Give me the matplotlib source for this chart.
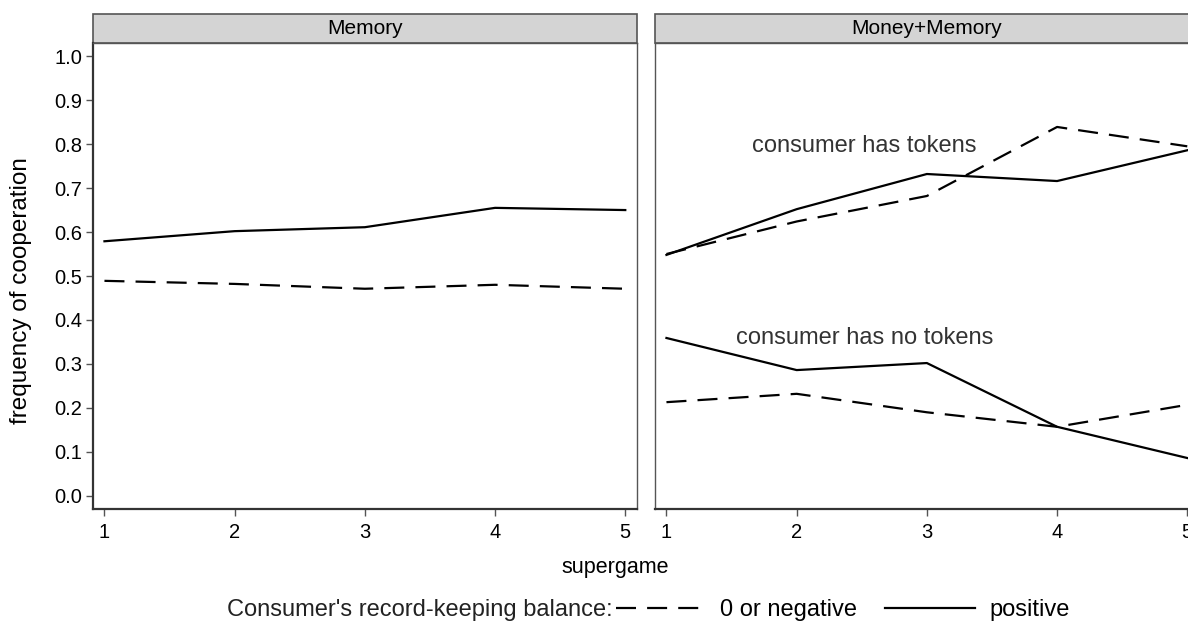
import matplotlib
matplotlib.use('Agg')
import matplotlib.pyplot as plt
from matplotlib.patches import Rectangle
from matplotlib.lines import Line2D

plt.rcParams['font.family'] = ['Liberation Sans', 'DejaVu Sans']

supergame = [1, 2, 3, 4, 5]

# Memory treatment
mem_positive = [0.579, 0.602, 0.611, 0.655, 0.650]
mem_nonpos = [0.489, 0.482, 0.471, 0.480, 0.471]

# Money+Memory treatment, consumer has tokens
mm_tok_positive = [0.548, 0.652, 0.732, 0.716, 0.786]
mm_tok_nonpos = [0.550, 0.624, 0.682, 0.839, 0.795]

# Money+Memory treatment, consumer has no tokens
mm_notok_positive = [0.359, 0.286, 0.302, 0.157, 0.086]
mm_notok_nonpos = [0.213, 0.232, 0.190, 0.157, 0.207]

yticks = [0.0, 0.1, 0.2, 0.3, 0.4, 0.5, 0.6, 0.7, 0.8, 0.9, 1.0]

W, H = 1188, 625
fig = plt.figure(figsize=(W / 100, H / 100), dpi=100)

# panel positions in pixels (left, top, right, bottom)
def px_axes(l, t, r, b):
    return fig.add_axes([l / W, 1 - b / H, (r - l) / W, (b - t) / H])

ax1 = px_axes(93, 43, 637, 509)
ax2 = px_axes(655, 43, 1199, 509)

dash = (0, (9, 5))
lw = 1.6

ax1.plot(supergame, mem_nonpos, color='black', lw=lw, linestyle=dash)
ax1.plot(supergame, mem_positive, color='black', lw=lw)

ax2.plot(supergame, mm_tok_nonpos, color='black', lw=lw, linestyle=dash)
ax2.plot(supergame, mm_tok_positive, color='black', lw=lw)
ax2.plot(supergame, mm_notok_nonpos, color='black', lw=lw, linestyle=dash)
ax2.plot(supergame, mm_notok_positive, color='black', lw=lw)

ax2.text(2.52, 0.795, 'consumer has tokens', ha='center', va='center',
         fontsize=17, color='#333333')
ax2.text(2.52, 0.36, 'consumer has no tokens', ha='center', va='center',
         fontsize=17, color='#333333')

strip_h = 29 / 466
for ax, title in [(ax1, 'Memory'), (ax2, 'Money+Memory')]:
    ax.set_xlim(0.912, 5.09)
    ax.set_ylim(-0.03, 1.03)
    ax.set_xticks(supergame)
    ax.set_xticklabels([str(s) for s in supergame])
    for sp in ax.spines.values():
        sp.set_color('#555555')
        sp.set_linewidth(1.0)
    ax.spines['bottom'].set_linewidth(1.6)
    ax.spines['bottom'].set_color('#333333')
    ax.tick_params(axis='x', direction='out', length=5, width=1,
                   color='#555555', labelsize=14.5, pad=5)
    rect = Rectangle((0, 1), 1, strip_h, transform=ax.transAxes,
                     facecolor='#d4d4d4', edgecolor='#555555', lw=1.2,
                     clip_on=False)
    ax.add_patch(rect)
    ax.text(0.5, 1 + strip_h / 2, title, transform=ax.transAxes,
            ha='center', va='center', fontsize=15)

ax1.set_yticks(yticks)
ax1.set_yticklabels([f'{v:.1f}' for v in yticks])
ax1.spines['left'].set_linewidth(1.6)
ax1.spines['left'].set_color('#333333')
ax1.tick_params(axis='y', direction='out', length=5, width=1,
                color='#555555', labelsize=14.5, pad=3)
ax1.set_ylabel('frequency of cooperation', fontsize=17.5)
ax1.yaxis.set_label_coords(-0.112, 0.468)

ax2.set_yticks([])

fig.text(615 / W, 1 - 567 / H, 'supergame', ha='center', va='center',
         fontsize=15.5)

# legend row
fig.text(613 / W, 1 - 610 / H, "Consumer's record-keeping balance:",
         ha='right', va='center', fontsize=17, color='#222222')
handles = [Line2D([], [], color='black', lw=lw, linestyle=dash),
           Line2D([], [], color='black', lw=lw)]
fig.legend(handles, ['0 or negative', 'positive'], ncol=2,
           loc='center left', bbox_to_anchor=(616 / W, 1 - 610 / H),
           frameon=False, fontsize=17, handlelength=3.8, handletextpad=0.6,
           columnspacing=1.2, borderaxespad=0, borderpad=0)

fig.savefig('out.png', dpi=100)
